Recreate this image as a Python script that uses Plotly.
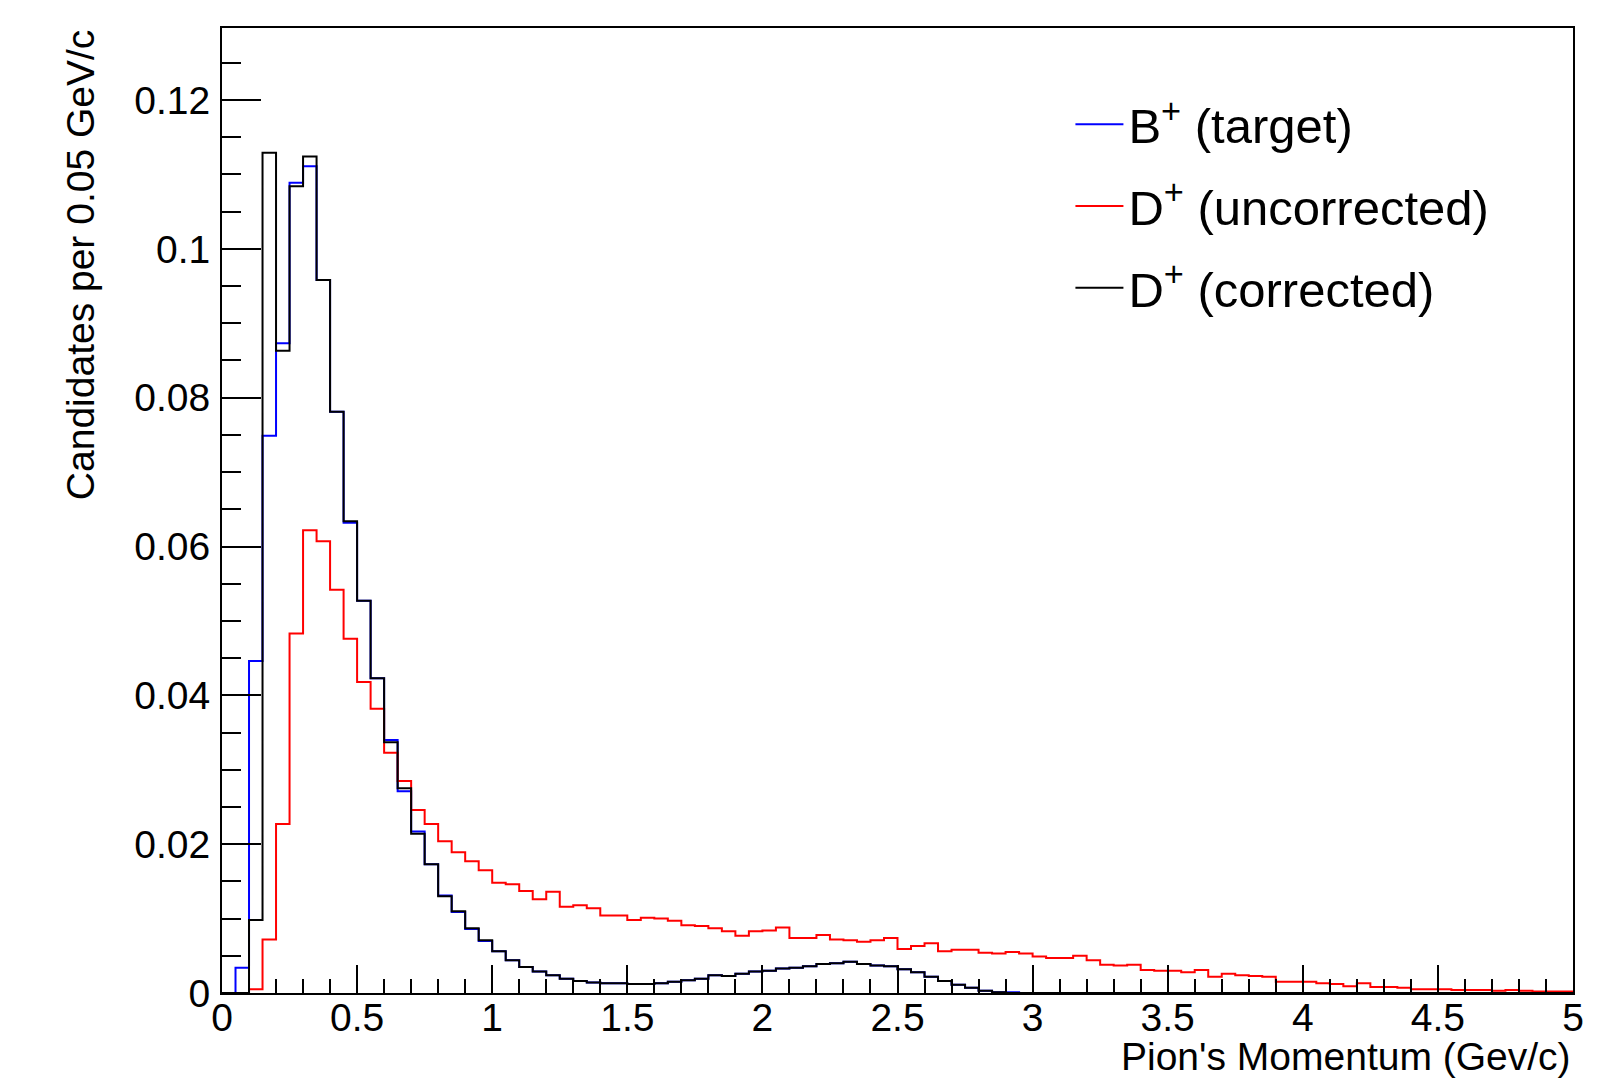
import numpy as np
import plotly.graph_objects as go

# Histogram binning: 100 bins of 0.05 GeV/c from 0 to 5
x_min, x_max, n_bins = 0.0, 5.0, 100
bin_edges = np.linspace(x_min, x_max, n_bins + 1)

series_names = ["B<sup>+</sup> (target)", "D<sup>+</sup> (uncorrected)", "D<sup>+</sup> (corrected)"]

b_target = [
    0, 0.0034, 0.0446, 0.0749, 0.0873, 0.1089, 0.1111, 0.0958, 0.0781, 0.0632,
    0.0527, 0.0423, 0.0340, 0.0271, 0.0217, 0.0173, 0.0131, 0.0109, 0.0086, 0.0070,
    0.0056, 0.0044, 0.0035, 0.0029, 0.0024, 0.0019, 0.0016, 0.0014, 0.0013, 0.0013,
    0.0012, 0.0012, 0.0013, 0.0015, 0.0017, 0.0019, 0.0024, 0.0023, 0.0026, 0.0029,
    0.0030, 0.0033, 0.0034, 0.0036, 0.0039, 0.0040, 0.0042, 0.0039, 0.0037, 0.0036,
    0.0032, 0.0028, 0.0022, 0.0016, 0.0011, 0.0007, 0.0003, 0.0001, 0.0001, 0,
    0, 0, 0, 0, 0, 0, 0, 0, 0, 0,
    0, 0, 0, 0, 0, 0, 0, 0, 0, 0,
    0, 0, 0, 0, 0, 0, 0, 0, 0, 0,
    0, 0, 0, 0, 0, 0, 0, 0, 0, 0,
]

d_uncorrected = [
    0, 0, 0.0005, 0.0072, 0.0227, 0.0483, 0.0622, 0.0607, 0.0542, 0.0476,
    0.0418, 0.0382, 0.0323, 0.0285, 0.0246, 0.0227, 0.0204, 0.0189, 0.0177, 0.0165,
    0.0148, 0.0146, 0.0137, 0.0126, 0.0136, 0.0116, 0.0118, 0.0114, 0.0104, 0.0104,
    0.0098, 0.0101, 0.0100, 0.0097, 0.0091, 0.0090, 0.0087, 0.0083, 0.0077, 0.0083,
    0.0084, 0.0088, 0.0074, 0.0074, 0.0078, 0.0072, 0.0071, 0.0069, 0.0071, 0.0074,
    0.0059, 0.0063, 0.0067, 0.0056, 0.0058, 0.0058, 0.0054, 0.0053, 0.0055, 0.0053,
    0.0049, 0.0047, 0.0047, 0.0050, 0.0044, 0.0038, 0.0037, 0.0038, 0.0031, 0.0030,
    0.0030, 0.0028, 0.0031, 0.0022, 0.0026, 0.0024, 0.0023, 0.0022, 0.0015, 0.0015,
    0.0015, 0.0013, 0.0012, 0.0009, 0.0013, 0.0008, 0.0008, 0.0007, 0.0005, 0.0005,
    0.0005, 0.0004, 0.0004, 0.0004, 0.0003, 0.0004, 0.0003, 0.0002, 0.0002, 0.0002,
]

d_corrected = [
    0, 0, 0.0098, 0.1129, 0.0863, 0.1084, 0.1124, 0.0958, 0.0781, 0.0634,
    0.0527, 0.0423, 0.0337, 0.0275, 0.0214, 0.0173, 0.0130, 0.0110, 0.0087, 0.0071,
    0.0056, 0.0044, 0.0035, 0.0029, 0.0024, 0.0019, 0.0016, 0.0014, 0.0013, 0.0013,
    0.0012, 0.0012, 0.0013, 0.0015, 0.0017, 0.0019, 0.0024, 0.0023, 0.0026, 0.0029,
    0.0030, 0.0033, 0.0034, 0.0036, 0.0039, 0.0040, 0.0042, 0.0039, 0.0037, 0.0036,
    0.0032, 0.0028, 0.0022, 0.0016, 0.0011, 0.0007, 0.0003, 0.0001, 0, 0,
    0, 0, 0, 0, 0, 0, 0, 0, 0, 0,
    0, 0, 0, 0, 0, 0, 0, 0, 0, 0,
    0, 0, 0, 0, 0, 0, 0, 0, 0, 0,
    0, 0, 0, 0, 0, 0, 0, 0, 0, 0,
]

series_values = [b_target, d_uncorrected, d_corrected]
series_colors = ["#0000ff", "#ff0000", "#000000"]

FONT = "Liberation Sans, Arial, Helvetica, sans-serif"

fig = go.Figure()
for i, (name, vals, col) in enumerate(zip(series_names, series_values, series_colors)):
    y = list(vals) + [vals[-1]]
    fig.add_trace(go.Scatter(
        x=bin_edges, y=y, mode="lines", name=name,
        line=dict(color=col, width=2, shape="hv"),
        legendgroup=f"g{i}",
    ))

fig.update_layout(
    width=1598, height=1085,
    margin=dict(l=222, r=25, t=28, b=92),
    paper_bgcolor="white", plot_bgcolor="white",
    font=dict(family=FONT, color="black", size=39),
    showlegend=True,
    legend=dict(
        x=0.628, y=0.940, xanchor="left", yanchor="top",
        bgcolor="rgba(0,0,0,0)", borderwidth=0,
        font=dict(size=49, family=FONT),
        tracegroupgap=15, traceorder="grouped", itemwidth=48,
    ),
    xaxis=dict(
        range=[x_min, x_max], showgrid=False, zeroline=False,
        showline=True, linecolor="black", linewidth=2, mirror=True,
        ticks="inside", ticklen=28, tickwidth=2, tickcolor="black",
        dtick=0.5, tick0=0, ticklabelstandoff=-11,
        tickfont=dict(size=39, family=FONT),
        minor=dict(ticks="inside", ticklen=14, tickwidth=2, tickcolor="black", dtick=0.1, showgrid=False),
    ),
    yaxis=dict(
        range=[0, 0.12968], showgrid=False, zeroline=False,
        showline=True, linecolor="black", linewidth=2, mirror=True,
        ticks="inside", ticklen=39, tickwidth=2, tickcolor="black",
        dtick=0.02, tick0=0, ticklabelstandoff=2,
        tickfont=dict(size=39, family=FONT),
        minor=dict(ticks="inside", ticklen=19, tickwidth=2, tickcolor="black", dtick=0.005, showgrid=False),
    ),
    annotations=[
        dict(text="Pion's Momentum (Gev/c)", xref="paper", yref="paper",
             x=1.0, y=-0.066, xanchor="right", yanchor="middle", showarrow=False,
             font=dict(size=39, family=FONT)),
        dict(text="Candidates per 0.05 GeV/c", xref="paper", yref="paper",
             x=-0.105, y=1.0, xanchor="center", yanchor="top", textangle=-90, showarrow=False,
             font=dict(size=39, family=FONT)),
    ],
)

fig.write_html("out.html")
